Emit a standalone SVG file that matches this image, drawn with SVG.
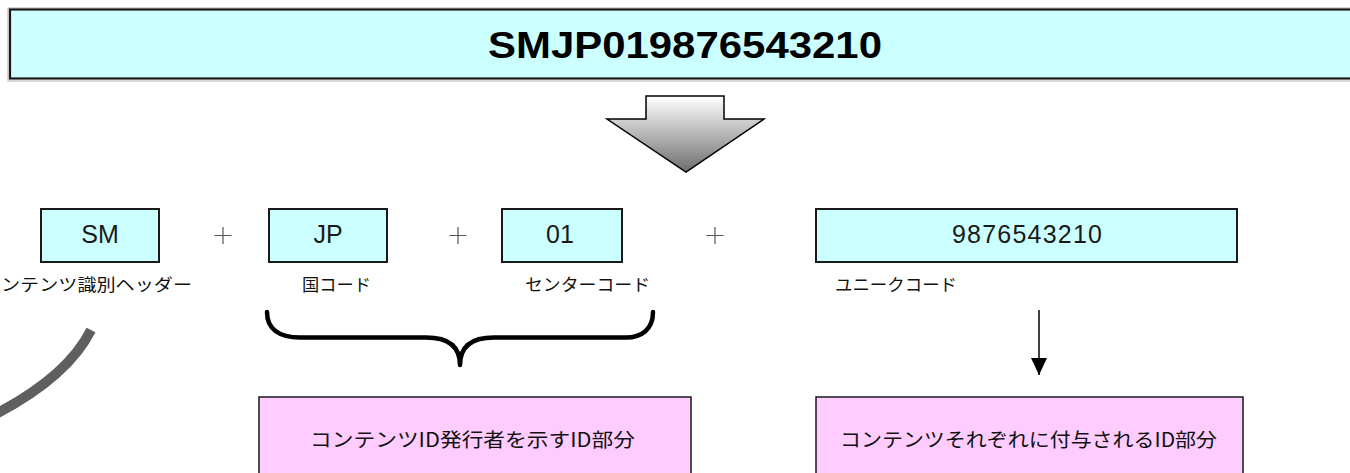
<svg xmlns="http://www.w3.org/2000/svg" width="1350" height="473" viewBox="0 0 1350 473">
  <style>
    .cell { fill: #CCFFFF; stroke: #1a1a1a; stroke-width: 2; }
    .pink { fill: #FFCCFF; stroke: #1a1a1a; stroke-width: 1.5; }
    .code { font-family: "Liberation Sans", Arial, sans-serif; font-size: 25px; fill: #1a1a1a; text-anchor: middle; }
    .lbl { font-family: "Noto Sans CJK JP", "Liberation Sans", sans-serif; font-size: 17px; fill: #111; }
    .desc { font-family: "Noto Sans CJK JP", "Liberation Sans", sans-serif; font-size: 19.5px; fill: #111; text-anchor: middle; }
    .plus { stroke: #555; stroke-width: 1.2; fill: none; }
  </style>
  <defs>
    <linearGradient id="arrowGrad" x1="0" y1="0" x2="0" y2="1">
      <stop offset="0" stop-color="#ffffff"/>
      <stop offset="1" stop-color="#6e6e6e"/>
    </linearGradient>
    <marker id="arrowHead" viewBox="0 0 17 16" refX="17" refY="8" markerWidth="17" markerHeight="16" markerUnits="userSpaceOnUse" orient="auto">
      <path d="M0,0 L17,8 L0,16 Z" fill="#000"/>
    </marker>
  </defs>

  <rect width="1350" height="473" fill="#ffffff"/>

  <g id="title">
    <rect x="8" y="8" width="1600" height="73" fill="none" stroke="#b0b0b0" stroke-width="1"/>
    <rect x="10" y="9.5" width="1600" height="69" fill="#CCFFFF" stroke="#1a1a1a" stroke-width="2.2"/>
    <text x="685" y="58" font-family="Liberation Sans, Arial, sans-serif" font-size="37" font-weight="bold" fill="#000" text-anchor="middle" textLength="394" lengthAdjust="spacingAndGlyphs">SMJP019876543210</text>
  </g>

  <g id="big-arrow">
    <path d="M646,96 L724,96 L724,119 L764,119 L686,172 L607,119 L646,119 Z" fill="url(#arrowGrad)" stroke="#000" stroke-width="1.5" stroke-linejoin="miter"/>
  </g>

  <g id="node-sm">
    <rect class="cell" x="41" y="209" width="118" height="53"/>
    <text class="code" x="100" y="243">SM</text>
    <text class="lbl" x="1" y="291" textLength="191" lengthAdjust="spacingAndGlyphs">ンテンツ識別ヘッダー</text>
  </g>

  <g id="plus-1"><path class="plus" d="M214.5,235.5 H231.5 M223,227 V244"/></g>

  <g id="node-jp">
    <rect class="cell" x="269" y="209" width="118" height="53"/>
    <text class="code" x="328" y="243">JP</text>
    <text class="lbl" x="302" y="291" textLength="69" lengthAdjust="spacingAndGlyphs">国コード</text>
  </g>

  <g id="plus-2"><path class="plus" d="M449.5,235.5 H466.5 M458,227 V244"/></g>

  <g id="node-01">
    <rect class="cell" x="502" y="209" width="120" height="53"/>
    <text class="code" x="560" y="243">01</text>
    <text class="lbl" x="525" y="291" textLength="125" lengthAdjust="spacingAndGlyphs">センターコード</text>
  </g>

  <g id="plus-3"><path class="plus" d="M706.5,235.5 H723.5 M715,227 V244"/></g>

  <g id="node-unique">
    <rect class="cell" x="816" y="209" width="421" height="53"/>
    <text class="code" x="1027" y="243" textLength="150" lengthAdjust="spacing">9876543210</text>
    <text class="lbl" x="835" y="291" textLength="122" lengthAdjust="spacingAndGlyphs">ユニークコード</text>
  </g>

  <g id="brace">
    <path d="M267,312 C267,330 280,337.5 300,337.5 L426,337.5 C446,337.5 460,345 460,365 C460,345 474,337.5 494,337.5 L626,337.5 C641,337.5 653,330 653,312" fill="none" stroke="#000" stroke-width="4.5" stroke-linecap="round" stroke-linejoin="round"/>
  </g>

  <g id="grey-curve">
    <path d="M91,330 Q66.7,378.7 -12,418" fill="none" stroke="#5f5f5f" stroke-width="10" stroke-linecap="butt"/>
  </g>

  <g id="node-issuer">
    <rect class="pink" x="259" y="397" width="432" height="100"/>
    <text class="desc" x="472.5" y="447" textLength="325" lengthAdjust="spacingAndGlyphs">コンテンツID発行者を示すID部分</text>
  </g>

  <g id="node-content">
    <rect class="pink" x="816" y="397" width="427" height="100"/>
    <text class="desc" x="1028.5" y="447" textLength="377" lengthAdjust="spacingAndGlyphs">コンテンツそれぞれに付与されるID部分</text>
  </g>

  <g id="connectors">
    <line x1="1039" y1="310" x2="1039" y2="375" stroke="#000" stroke-width="1.5" marker-end="url(#arrowHead)"/>
  </g>
</svg>
